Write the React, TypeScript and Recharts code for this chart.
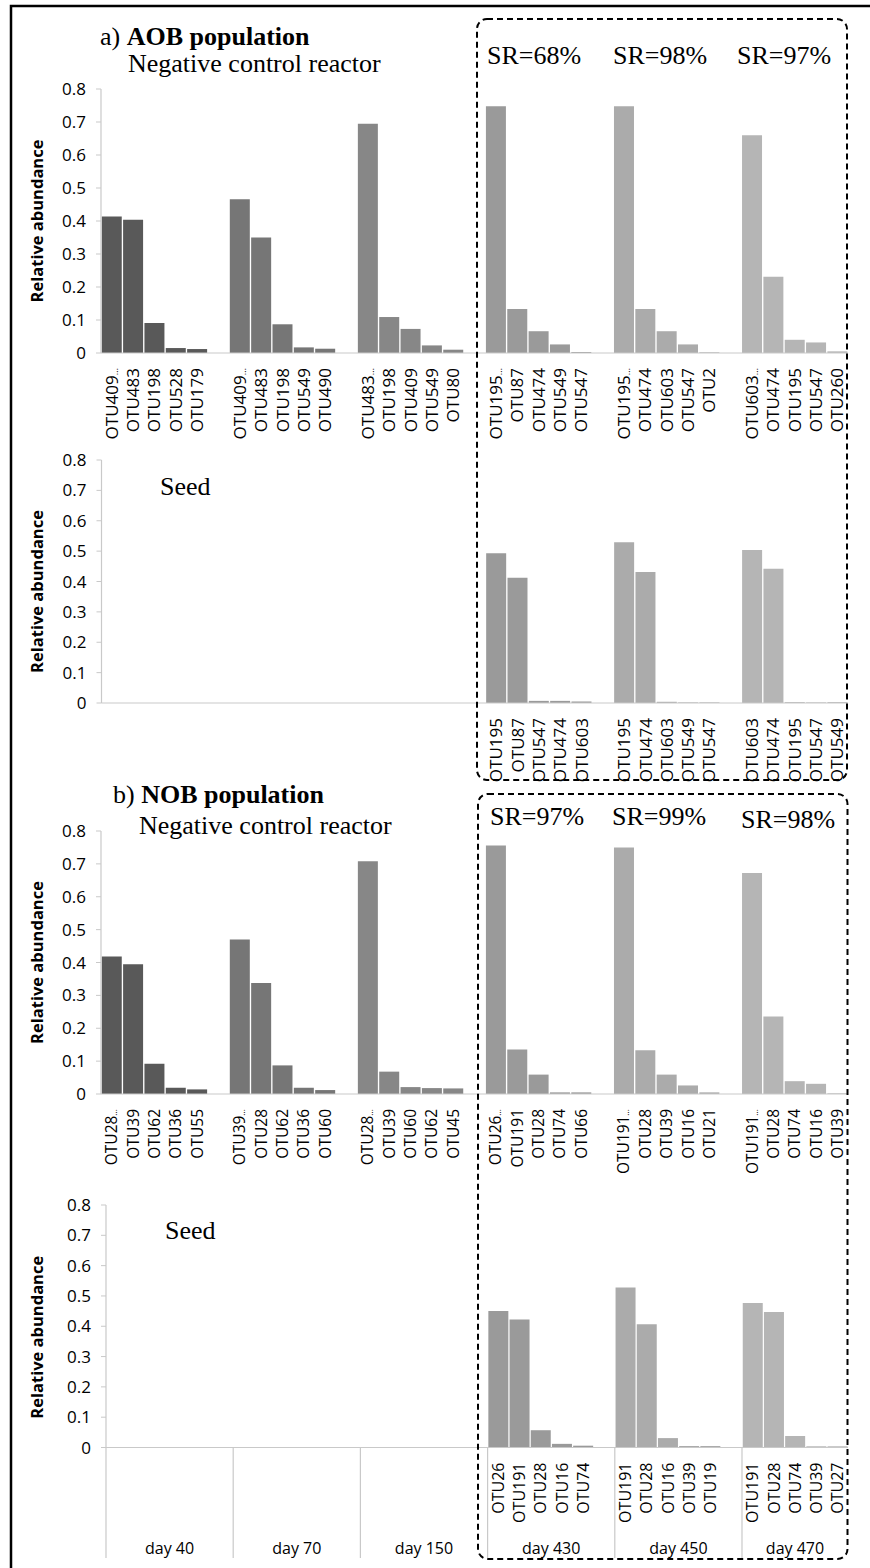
import React from 'react';
import { BarChart, Bar, XAxis, YAxis, Cell } from 'recharts';

const DAYS = ['day 40', 'day 70', 'day 150', 'day 430', 'day 450', 'day 470'];
const DAY_COLORS = ['#595959', '#767676', '#878787', '#9a9a9a', '#ababab', '#b5b5b5'];
const Y_TICKS = [0, 0.1, 0.2, 0.3, 0.4, 0.5, 0.6, 0.7, 0.8];

// a) AOB, negative control reactor
const AOB_REACTOR_OTUS = [
  ['OTU409…', 'OTU483', 'OTU198', 'OTU528', 'OTU179'],
  ['OTU409…', 'OTU483', 'OTU198', 'OTU549', 'OTU490'],
  ['OTU483…', 'OTU198', 'OTU409', 'OTU549', 'OTU80'],
  ['OTU195…', 'OTU87', 'OTU474', 'OTU549', 'OTU547'],
  ['OTU195…', 'OTU474', 'OTU603', 'OTU547', 'OTU2'],
  ['OTU603…', 'OTU474', 'OTU195', 'OTU547', 'OTU260'],
];
const AOB_REACTOR_VALUES = [
  [0.414, 0.404, 0.091, 0.015, 0.012],
  [0.466, 0.35, 0.087, 0.017, 0.013],
  [0.695, 0.109, 0.073, 0.023, 0.01],
  [0.748, 0.133, 0.066, 0.026, 0.003],
  [0.748, 0.133, 0.066, 0.026, 0.002],
  [0.66, 0.231, 0.04, 0.032, 0.005],
];

// a) AOB, seed
const AOB_SEED_OTUS = [
  [], [], [],
  ['OTU195', 'OTU87', 'OTU547', 'OTU474', 'OTU603'],
  ['OTU195', 'OTU474', 'OTU603', 'OTU549', 'OTU547'],
  ['OTU603', 'OTU474', 'OTU195', 'OTU547', 'OTU549'],
];
const AOB_SEED_VALUES = [
  [], [], [],
  [0.493, 0.412, 0.007, 0.007, 0.005],
  [0.529, 0.431, 0.004, 0.002, 0.002],
  [0.504, 0.442, 0.003, 0.002, 0.003],
];

// b) NOB, negative control reactor
const NOB_REACTOR_OTUS = [
  ['OTU28…', 'OTU39', 'OTU62', 'OTU36', 'OTU55'],
  ['OTU39…', 'OTU28', 'OTU62', 'OTU36', 'OTU60'],
  ['OTU28…', 'OTU39', 'OTU60', 'OTU62', 'OTU45'],
  ['OTU26…', 'OTU191', 'OTU28', 'OTU74', 'OTU66'],
  ['OTU191…', 'OTU28', 'OTU39', 'OTU16', 'OTU21'],
  ['OTU191…', 'OTU28', 'OTU74', 'OTU16', 'OTU39'],
];
const NOB_REACTOR_VALUES = [
  [0.418, 0.395, 0.092, 0.019, 0.014],
  [0.47, 0.338, 0.087, 0.019, 0.012],
  [0.708, 0.068, 0.021, 0.018, 0.017],
  [0.756, 0.135, 0.059, 0.005, 0.005],
  [0.75, 0.133, 0.059, 0.026, 0.005],
  [0.672, 0.236, 0.039, 0.031, 0.002],
];

// b) NOB, seed
const NOB_SEED_OTUS = [
  [], [], [],
  ['OTU26', 'OTU191', 'OTU28', 'OTU16', 'OTU74'],
  ['OTU191', 'OTU28', 'OTU16', 'OTU39', 'OTU19'],
  ['OTU191', 'OTU28', 'OTU74', 'OTU39', 'OTU27'],
];
const NOB_SEED_VALUES = [
  [], [], [],
  [0.45, 0.422, 0.057, 0.012, 0.006],
  [0.528, 0.407, 0.031, 0.005, 0.005],
  [0.477, 0.447, 0.038, 0.004, 0.004],
];

const SANS = '"Open Sans", "DejaVu Sans", sans-serif';
const SERIF = '"Liberation Serif", "DejaVu Serif", serif';
const AXIS_GREY = '#c9c9c9';
const CHART_W = 870;
const RIGHT = 22;
const TOP_PAD = 16;
const LABEL_GAP = 15;
const DAY_AXIS_H = 30;

type Row = { key: string; otu: string; day: string; group: number; pos: number; value: number | null };

// five OTU slots per sampling day, one empty slot between days (Excel style)
function buildRows(otus: string[][], values: number[][]): Row[] {
  const rows: Row[] = [];
  DAYS.forEach((day, g) => {
    for (let i = 0; i < 5; i++) {
      rows.push({
        key: `${g}-${i}`,
        otu: otus[g][i] ?? '',
        day,
        group: g,
        pos: i,
        value: values[g][i] ?? null,
      });
    }
    if (g < DAYS.length - 1) {
      rows.push({ key: `${g}-gap`, otu: '', day, group: g, pos: 5, value: null });
    }
  });
  return rows;
}

// truncated names keep their ellipsis tight, like the spreadsheet renders it
const OtuTick = (props: any) => {
  const { x, y, index, rows, fontSize } = props;
  const row: Row | undefined = rows[index];
  if (!row || !row.otu) return null;
  const cut = row.otu.endsWith('…');
  const base = cut ? row.otu.slice(0, -1) : row.otu;
  return (
    <text
      transform={`translate(${x}, ${y + LABEL_GAP}) rotate(-90)`}
      textAnchor="end"
      dy="0.36em"
      fontSize={fontSize}
      fontFamily={SANS}
      fill="#000"
    >
      {base}
      {cut && <tspan fontSize={fontSize * 0.55}>…</tspan>}
    </text>
  );
};

const DayTick = (props: any) => {
  const { x, y, index, rows, slot, otuAxisH } = props;
  const row: Row | undefined = rows[index];
  if (!row || row.pos !== 0) return null;
  const left = x - slot / 2;
  const slots = rows.filter((r: Row) => r.group === row.group).length;
  return (
    <g>
      <line x1={left} x2={left} y1={y - otuAxisH} y2={y + DAY_AXIS_H + 0.5} stroke={AXIS_GREY} strokeWidth={1.2} />
      <text x={left + (slots * slot) / 2} y={y + 26} textAnchor="middle" fontSize={16} fontFamily={SANS} fill="#000">
        {row.day}
      </text>
    </g>
  );
};

type PanelProps = {
  top: number;
  plotH: number;
  axisLeft: number;
  otuAxisH: number;
  otus: string[][];
  values: number[][];
  tickFont: number;
  titleShift: number;
  withDays?: boolean;
};

function Panel({ top, plotH, axisLeft, otuAxisH, otus, values, tickFont, titleShift, withDays }: PanelProps) {
  const rows = buildRows(otus, values);
  const slot = (CHART_W - RIGHT - axisLeft) / rows.length;
  const bottom = withDays ? 10 : 0;
  const height = TOP_PAD + plotH + otuAxisH + (withDays ? DAY_AXIS_H : 0) + bottom;
  const yTitle = () => (
    <text
      transform={`translate(37, ${TOP_PAD + plotH / 2 + titleShift}) rotate(-90)`}
      textAnchor="middle"
      dy="0.36em"
      fontSize={16.5}
      fontWeight="bold"
      fontFamily={SANS}
      fill="#000"
    >
      Relative abundance
    </text>
  );
  return (
    <div style={{ position: 'absolute', left: 0, top }}>
      <BarChart
        width={CHART_W}
        height={height}
        data={rows}
        margin={{ top: TOP_PAD, right: RIGHT, left: 0, bottom }}
        barCategoryGap={0.75}
      >
        <XAxis
          dataKey="key"
          type="category"
          interval={0}
          height={otuAxisH}
          tickSize={0}
          tickMargin={0}
          tickLine={false}
          axisLine={{ stroke: AXIS_GREY, strokeWidth: 1.2 }}
          tick={<OtuTick rows={rows} fontSize={tickFont} />}
        />
        {withDays && (
          <XAxis
            xAxisId="day"
            dataKey="key"
            type="category"
            interval={0}
            height={DAY_AXIS_H}
            tickSize={0}
            tickMargin={0}
            tickLine={false}
            axisLine={false}
            tick={<DayTick rows={rows} slot={slot} otuAxisH={otuAxisH} />}
          />
        )}
        <YAxis
          width={axisLeft}
          domain={[0, 0.8]}
          ticks={Y_TICKS}
          interval={0}
          tickSize={5}
          tickMargin={10}
          tickLine={{ stroke: AXIS_GREY }}
          axisLine={{ stroke: AXIS_GREY, strokeWidth: 1.2 }}
          tick={{ fontSize: 17, fontFamily: SANS, fill: '#000' }}
          label={yTitle}
        />
        <Bar dataKey="value" isAnimationActive={false}>
          {rows.map((r) => (
            <Cell key={r.key} fill={DAY_COLORS[r.group]} />
          ))}
        </Bar>
      </BarChart>
    </div>
  );
}

const titleStyle = { fontFamily: SERIF, fontSize: 26, fill: '#000' };

export default function App() {
  return (
    <div style={{ position: 'absolute', left: 0, top: 0, width: 870, height: 1568, background: '#fff', overflow: 'hidden' }}>
      <Panel top={89 - TOP_PAD} plotH={264} axisLeft={101} otuAxisH={100} otus={AOB_REACTOR_OTUS} values={AOB_REACTOR_VALUES} tickFont={17} titleShift={0} />
      <Panel top={460 - TOP_PAD} plotH={243} axisLeft={101.5} otuAxisH={95} otus={AOB_SEED_OTUS} values={AOB_SEED_VALUES} tickFont={17} titleShift={10} />
      <Panel top={831 - TOP_PAD} plotH={263} axisLeft={101} otuAxisH={95} otus={NOB_REACTOR_OTUS} values={NOB_REACTOR_VALUES} tickFont={15.5} titleShift={0} />
      <Panel top={1205 - TOP_PAD} plotH={242.5} axisLeft={106} otuAxisH={80} otus={NOB_SEED_OTUS} values={NOB_SEED_VALUES} tickFont={16} titleShift={11} withDays />

      <svg width={870} height={1568} style={{ position: 'absolute', left: 0, top: 0, pointerEvents: 'none' }}>
        {/* figure frame */}
        <path d="M 11 1568 L 11 6 L 870 6" fill="none" stroke="#000" strokeWidth={2.5} />

        {/* inoculated reactor periods */}
        <rect x={477} y={19} width={370} height={761} rx={10} fill="none" stroke="#000" strokeWidth={2} strokeDasharray="6 4" />
        <rect x={478} y={794} width={369.5} height={765} rx={10} fill="none" stroke="#000" strokeWidth={2} strokeDasharray="6 4" />

        <text x={100} y={45} style={titleStyle}>
          a) <tspan fontWeight="bold">AOB population</tspan>
        </text>
        <text x={128} y={72} style={titleStyle}>Negative control reactor</text>
        <text x={487} y={64} style={titleStyle}>SR=68%</text>
        <text x={613} y={64} style={titleStyle}>SR=98%</text>
        <text x={737} y={64} style={titleStyle}>SR=97%</text>
        <text x={160} y={495} style={titleStyle}>Seed</text>

        <text x={113} y={803} style={titleStyle}>
          b) <tspan fontWeight="bold">NOB population</tspan>
        </text>
        <text x={139} y={834} style={titleStyle}>Negative control reactor</text>
        <text x={490} y={825} style={titleStyle}>SR=97%</text>
        <text x={612} y={825} style={titleStyle}>SR=99%</text>
        <text x={741} y={828} style={titleStyle}>SR=98%</text>
        <text x={165} y={1239} style={titleStyle}>Seed</text>
      </svg>
    </div>
  );
}
